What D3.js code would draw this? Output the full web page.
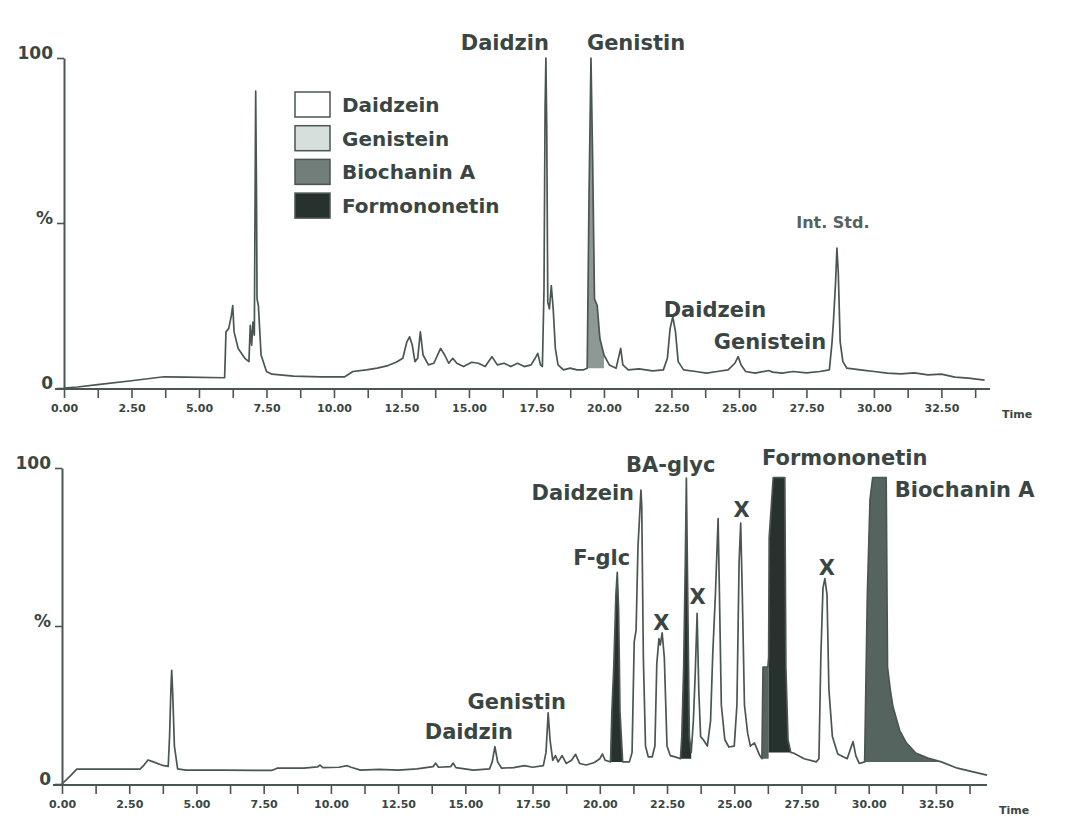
<!DOCTYPE html>
<html>
<head>
<meta charset="utf-8">
<script src="https://cdn.jsdelivr.net/npm/d3@7"></script>
<style>
    body { margin: 0; background: #fff; }
    svg { display: block; }
    text { font-family: "DejaVu Sans", "Liberation Sans", sans-serif; fill: #3a4643; }
</style>
</head>
<body>
<svg id="chart" width="1067" height="825"></svg>
<script>
'use strict';

// [time (min), intensity (%)]
const topTrace = [
    [0,0],[0.5,0.3],[1.25,1.0],[2.5,2.2],[3.7,3.4],[4.5,3.3],[5.95,3.1],[6.0,17],[6.1,18],[6.2,22],[6.25,25],
    [6.3,17],[6.45,12],[6.7,9],[6.85,8],[6.9,19],[6.95,13],[7.0,20],[7.05,16],[7.08,60],[7.1,90],[7.13,60],
    [7.15,27],[7.2,25],[7.3,10],[7.5,5],[7.7,4.2],[8.5,3.6],[9.5,3.4],[10.4,3.4],[10.7,5],[11.2,5.5],[11.6,6],
    [12.0,6.8],[12.3,7.8],[12.55,9],[12.7,14],[12.8,15.5],[12.9,13],[13.0,8],[13.1,9],[13.2,17],[13.3,10],
    [13.5,7],[13.7,7.5],[13.95,12],[14.1,10],[14.25,7.5],[14.4,9],[14.55,7.5],[14.8,6.5],[15.1,7.8],[15.35,7.5],
    [15.6,6.5],[15.85,9.5],[16.05,7],[16.3,7.5],[16.55,6.5],[16.8,7.5],[17.05,6.5],[17.3,7],[17.45,9],[17.55,10.5],
    [17.65,7],[17.72,6.5],[17.78,30],[17.82,85],[17.85,100],[17.88,80],[17.92,26],[17.98,24],[18.05,31],[18.12,24],
    [18.2,12],[18.3,7],[18.5,5.5],[18.75,6],[19.0,5.5],[19.25,5.5],[19.38,6],[19.45,60],[19.52,100],[19.58,70],
    [19.65,27],[19.75,25],[19.85,15],[20.0,10],[20.2,7],[20.45,6],[20.55,9.5],[20.62,12],[20.7,7],[20.9,5.5],
    [21.3,5.8],[21.8,5.2],[22.2,5.5],[22.35,9],[22.45,18],[22.55,21.6],[22.65,17],[22.75,8],[22.95,5.5],[23.4,5],
    [23.8,4.5],[24.2,5],[24.6,5.5],[24.85,7.5],[24.97,9.5],[25.08,7],[25.25,5],[25.6,4.5],[26.1,5.3],[26.25,4.8],
    [26.6,4.5],[27.0,5],[27.5,4.6],[28.0,5],[28.35,5.5],[28.45,14],[28.5,20],[28.58,32],[28.63,42.4],[28.68,35],
    [28.75,14],[28.85,8],[29.0,6],[29.5,5.5],[30.0,5],[30.5,4.5],[31.0,4.3],[31.5,4.6],[32.0,4.0],[32.5,4.2],
    [33.0,3.3],[33.5,3.0],[34.1,2.4]
];

const bottomTrace = [
    [0,0],[0.3,2.5],[0.55,4.7],[1.5,4.7],[2.9,4.7],[3.05,6],[3.2,7.6],[3.4,7],[3.7,6],[3.95,5.6],[4.0,15],
    [4.05,30],[4.08,36],[4.12,28],[4.18,12],[4.3,4.8],[4.6,4.4],[6,4.4],[7.8,4.3],[8.0,5],[9.0,5],[9.5,5.4],
    [9.6,6],[9.7,5.2],[10.3,5.3],[10.6,5.8],[10.75,5.3],[11.1,4.4],[11.8,4.6],[12.5,4.4],[13.2,4.8],[13.8,5.5],
    [13.9,6.6],[14.0,5.3],[14.45,5.5],[14.55,6.6],[14.65,5.2],[15.3,4.4],[15.9,4.8],[16.0,7],[16.1,11.8],[16.2,7],
    [16.35,5],[16.8,5.2],[17.2,5.8],[17.5,5.3],[17.9,5.8],[18.0,10],[18.08,22.5],[18.15,14],[18.25,7.5],[18.35,9],
    [18.45,7],[18.6,9],[18.75,6.5],[18.95,7.5],[19.1,9.4],[19.25,6.5],[19.5,6],[19.8,6.8],[20.0,8],[20.1,9.5],
    [20.2,7.5],[20.4,7],[20.45,23],[20.52,37],[20.6,60],[20.65,67],[20.7,55],[20.75,23],[20.85,7],[20.95,7],
    [21.1,7],[21.2,10],[21.28,45],[21.35,48.7],[21.42,75],[21.5,88],[21.53,93],[21.56,88],[21.62,40],[21.7,12],
    [21.8,8.6],[21.95,8.6],[22.05,12],[22.12,38],[22.2,46],[22.25,44],[22.32,47.8],[22.4,40],[22.5,12],[22.62,9],
    [22.8,8.6],[23.0,8],[23.05,15],[23.12,37],[23.18,70],[23.22,96.8],[23.27,60],[23.33,15],[23.4,10],[23.48,20],
    [23.55,35],[23.62,54],[23.68,30],[23.75,15],[23.85,14],[24.0,12],[24.12,20],[24.2,41],[24.3,60],[24.4,84],
    [24.45,60],[24.52,25],[24.65,14],[24.8,11.7],[25.0,12],[25.1,25],[25.18,70],[25.24,82.6],[25.3,60],[25.38,25],
    [25.5,16],[25.6,12],[25.75,13],[25.95,9],[26.03,8],[26.07,37],[26.25,37],[26.28,40],[26.3,78],[26.45,97],[26.88,97],
    [26.92,37],[27.0,14],[27.1,10],[27.2,9.8],[27.6,8],[28.05,7],[28.15,8],[28.22,40],[28.3,62],[28.37,65],
    [28.45,60],[28.52,30],[28.65,15],[28.85,9.5],[29.2,8],[29.32,11],[29.42,13.4],[29.52,9],[29.65,6.5],[29.85,7],
    [29.95,60],[30.05,90],[30.15,97],[30.65,97],[30.7,37],[30.8,30],[30.9,24.5],[31.15,17],[31.4,13],[31.75,9.8],
    [32.2,8.2],[32.7,7],[33.3,5],[34.4,2.8]
];

// shaded peaks: [from, to, compound]
const topFills = [[19.38, 20.0, "Genistin"]];
const bottomFills = [
    [20.4, 20.85, "Formononetin"],
    [23.0, 23.4, "Formononetin"],
    [26.03, 26.28, "Biochanin A"],
    [26.28, 27.1, "Formononetin"],
    [29.85, 32.7, "Biochanin A"]
];

const legendNames = ["Daidzein", "Genistein", "Biochanin A", "Formononetin"];

// [text, time, level %]
const topLabels = [
    ["Daidzin", 16.33, 104.5], ["Genistin", 21.19, 104.5], ["Daidzein", 24.11, 23.6],
    ["Genistein", 26.15, 13.9]
];
const topSmallLabels = [["Int. Std.", 28.48, 50.3]];
const bottomLabels = [
    ["Daidzin", 15.13, 16.5], ["Genistin", 16.91, 25.9], ["F-glc", 20.07, 71.5], ["Daidzein", 19.37, 92.1],
    ["BA-glyc", 22.64, 100.9], ["X", 22.29, 50.9], ["X", 23.64, 59.2], ["X", 25.27, 86.7], ["X", 28.44, 68.4],
    ["Formononetin", 29.11, 103.2], ["Biochanin A", 33.57, 93.0]
];

const timeTicks = d3.range(0, 34, 1.25);
const timeLabels = d3.range(0, 33, 2.5);
const yTicks = [0, 50, 100];
const yTickText = {0: "0", 50: "%", 100: "100"};

const fillColor = {
    "Daidzein": "#ffffff",
    "Genistein": "#d6dfdb",
    "Biochanin A": "#56645f",
    "Formononetin": "#27312e",
    "Genistin": "#8e9894"
};
const legendColor = {"Biochanin A": "#717e7a"};
const ink = "#4a5652";

const svg = d3.select("#chart");

function panel(opts) {
    const {trace, fills, labels, small, x0, x1, tMax, yTop, yBase} = opts;
    const x = d3.scaleLinear().domain([0, tMax]).range([x0, x1]);
    const y = d3.scaleLinear().domain([0, 100]).range([yBase, yTop]);
    const g = svg.append("g");

    // peak shading down to the lowest point of the stretch
    fills.forEach(([from, to, name]) => {
        const pts = trace.filter(d => d[0] >= from && d[0] <= to);
        const base = d3.min(pts, d => d[1]);
        g.append("path")
            .datum(pts)
            .attr("fill", fillColor[name])
            .attr("d", d3.area().x(d => x(d[0])).y0(y(base)).y1(d => y(d[1])));
    });

    g.append("path")
        .datum(trace)
        .attr("fill", "none")
        .attr("stroke", ink)
        .attr("stroke-width", 1.7)
        .attr("stroke-linejoin", "round")
        .attr("d", d3.line().x(d => x(d[0])).y(d => y(d[1])));

    // x axis
    const xa = g.append("g")
        .attr("transform", `translate(0,${yBase + 1})`)
        .call(d3.axisBottom(x).tickValues(timeTicks).tickSize(9).tickPadding(6)
            .tickFormat(d => timeLabels.includes(d) ? d.toFixed(2) : ""));
    xa.select(".domain").remove();
    xa.append("line").attr("x1", x0 - 9).attr("x2", x1).attr("stroke", ink).attr("stroke-width", 2);
    xa.selectAll(".tick line").attr("stroke", ink).attr("stroke-width", 1.6);
    xa.selectAll(".tick text").attr("font-size", 11).attr("font-weight", "bold").attr("fill", "#3a4643");
    g.append("text")
        .attr("x", x1 + 12).attr("y", yBase + 30)
        .attr("font-size", 11).attr("font-weight", "bold")
        .text("Time");

    // y axis
    const ya = g.append("g")
        .attr("transform", `translate(${x0},0)`)
        .call(d3.axisLeft(y).tickValues(yTicks).tickSize(7).tickSizeOuter(0).tickPadding(4)
            .tickFormat(d => yTickText[d]));
    ya.select(".domain").attr("stroke", ink).attr("stroke-width", 2);
    ya.selectAll(".tick line").attr("stroke", ink).attr("stroke-width", 1.6);
    ya.selectAll(".tick text").attr("font-size", 17).attr("font-weight", "bold")
        .attr("fill", "#3a4643").attr("dy", "0.05em");

    g.selectAll(".peak").data(labels).enter().append("text")
        .attr("x", d => x(d[1])).attr("y", d => y(d[2]))
        .attr("text-anchor", "middle").attr("dominant-baseline", "central")
        .attr("font-size", 21).attr("font-weight", "bold")
        .text(d => d[0]);
    g.selectAll(".small").data(small || []).enter().append("text")
        .attr("x", d => x(d[1])).attr("y", d => y(d[2]))
        .attr("text-anchor", "middle").attr("dominant-baseline", "central")
        .attr("font-size", 16).attr("font-weight", "bold").style("fill", "#56625e")
        .text(d => d[0]);
    return {x, y};
}

panel({trace: topTrace, fills: topFills, labels: topLabels, small: topSmallLabels,
    x0: 64, x1: 990, tMax: 34.3, yTop: 58, yBase: 388});
panel({trace: bottomTrace, fills: bottomFills, labels: bottomLabels,
    x0: 62, x1: 987, tMax: 34.4, yTop: 468, yBase: 784});

// legend
const lg = svg.append("g").attr("transform", "translate(295,92)");
const row = lg.selectAll("g").data(legendNames).enter().append("g")
    .attr("transform", (d, i) => `translate(0,${i*33.7})`);
row.append("rect")
    .attr("width", 35).attr("height", 25)
    .attr("fill", d => legendColor[d] || fillColor[d])
    .attr("stroke", ink).attr("stroke-width", 1.5);
row.append("text")
    .attr("x", 47).attr("y", 13)
    .attr("dominant-baseline", "central")
    .attr("font-size", 20).attr("font-weight", "bold")
    .text(d => d);
</script>
</body>
</html>
